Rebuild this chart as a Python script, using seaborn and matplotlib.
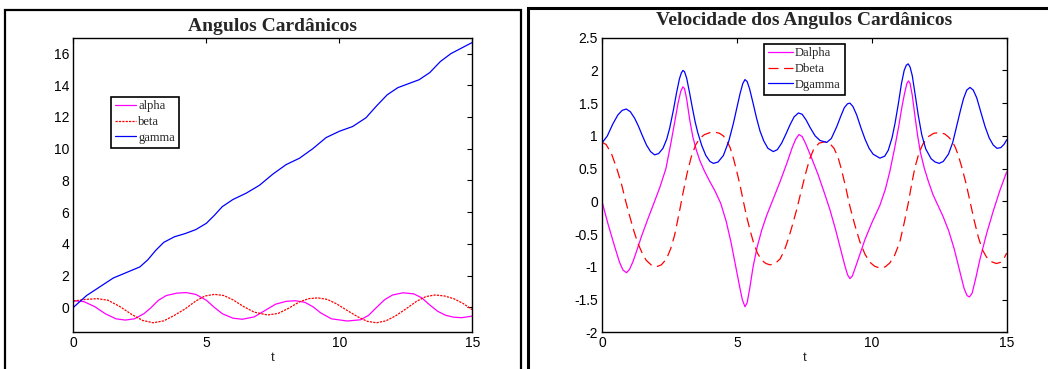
import matplotlib
matplotlib.use("Agg")
import matplotlib.pyplot as plt
import seaborn as sns
from matplotlib.patches import Rectangle

# ---- left panel: Angulos Cardanicos ----
t_alpha = [0, 0.4, 0.8, 1.2, 1.6, 1.95, 2.3, 2.65, 2.9, 3.2, 3.5, 3.9, 4.25, 4.6, 5.0, 5.3,
           5.6, 6.0, 6.35, 6.8, 7.2, 7.6, 8.0, 8.35, 8.7, 9.0, 9.3, 9.7, 10.3, 10.8, 11.1,
           11.4, 11.7, 12.0, 12.4, 12.8, 13.1, 13.4, 13.7, 14.0, 14.3, 14.6, 15.0]
alpha = [0.42, 0.36, 0.05, -0.4, -0.72, -0.8, -0.72, -0.4, -0.05, 0.45, 0.75, 0.9, 0.93, 0.82,
         0.45, 0.0, -0.4, -0.68, -0.75, -0.6, -0.2, 0.2, 0.38, 0.42, 0.32, 0.05, -0.35, -0.72,
         -0.86, -0.78, -0.5, 0.0, 0.48, 0.78, 0.92, 0.85, 0.6, 0.15, -0.25, -0.5, -0.62, -0.65, -0.55]

t_beta = [0, 0.45, 0.9, 1.3, 1.75, 2.2, 2.6, 3.0, 3.4, 3.8, 4.2, 4.6, 4.95, 5.3, 5.65, 6.0, 6.4,
          6.8, 7.3, 7.7, 8.1, 8.5, 8.85, 9.2, 9.55, 9.9, 10.3, 10.7, 11.05, 11.4, 11.75, 12.1,
          12.5, 12.9, 13.25, 13.6, 13.95, 14.3, 14.65, 15.0]
beta = [0.40, 0.5, 0.55, 0.45, 0.05, -0.45, -0.82, -0.97, -0.85, -0.5, -0.1, 0.4, 0.72, 0.82,
        0.75, 0.48, 0.05, -0.3, -0.48, -0.38, -0.05, 0.35, 0.55, 0.6, 0.5, 0.22, -0.2, -0.6,
        -0.88, -0.97, -0.85, -0.55, -0.1, 0.38, 0.68, 0.78, 0.72, 0.55, 0.25, -0.15]

t_gamma = [0, 0.5, 1.0, 1.5, 2.0, 2.5, 2.8, 3.1, 3.4, 3.8, 4.2, 4.6, 5.0, 5.3, 5.6, 6.0, 6.5,
           7.0, 7.5, 8.0, 8.5, 9.0, 9.5, 10.0, 10.5, 11.0, 11.4, 11.8, 12.2, 12.6, 13.0, 13.4,
           13.8, 14.2, 14.6, 15.0]
gamma = [0, 0.75, 1.3, 1.85, 2.2, 2.55, 3.0, 3.6, 4.1, 4.45, 4.65, 4.9, 5.3, 5.8, 6.35, 6.8,
         7.2, 7.7, 8.4, 9.0, 9.4, 10.0, 10.7, 11.1, 11.4, 11.95, 12.7, 13.4, 13.85, 14.1, 14.35,
         14.8, 15.5, 16.0, 16.35, 16.7]

# ---- right panel: Velocidade dos Angulos Cardanicos ----
t_dalpha = [0, 0.22, 0.47, 0.65, 0.78, 0.91, 1.02, 1.15, 1.3, 1.46, 1.7, 1.95, 2.15, 2.37, 2.55,
            2.7, 2.82, 2.92, 3.0, 3.06, 3.14, 3.25, 3.37, 3.5, 3.63, 3.8, 4.0, 4.2, 4.4, 4.6,
            4.78, 4.95, 5.1, 5.2, 5.3, 5.38, 5.48, 5.6, 5.75, 5.92, 6.1, 6.35, 6.6, 6.85, 7.05,
            7.18, 7.3, 7.42, 7.55, 7.75, 8.0, 8.25, 8.45, 8.65, 8.85, 9.0, 9.1, 9.19, 9.28, 9.4,
            9.55, 9.75, 10.0, 10.3, 10.5, 10.67, 10.85, 11.0, 11.12, 11.22, 11.3, 11.36, 11.42,
            11.5, 11.6, 11.7, 11.8, 11.95, 12.1, 12.27, 12.45, 12.64, 12.85, 13.05, 13.25,
            13.42, 13.53, 13.62, 13.72, 13.85, 14.0, 14.25, 14.5, 14.75, 15.0]
dalpha = [0.0, -0.34, -0.69, -0.93, -1.05, -1.09, -1.04, -0.92, -0.74, -0.54, -0.27, 0.0, 0.22,
          0.5, 0.88, 1.22, 1.5, 1.68, 1.75, 1.72, 1.56, 1.25, 0.98, 0.78, 0.62, 0.46, 0.3, 0.15,
          -0.03, -0.3, -0.62, -0.98, -1.3, -1.5, -1.61, -1.55, -1.32, -1.0, -0.7, -0.44, -0.22,
          0.04, 0.3, 0.58, 0.82, 0.95, 1.02, 0.99, 0.88, 0.68, 0.42, 0.12, -0.13, -0.42, -0.74,
          -0.98, -1.12, -1.18, -1.14, -1.0, -0.82, -0.58, -0.33, -0.06, 0.18, 0.46, 0.82, 1.15,
          1.45, 1.66, 1.8, 1.84, 1.8, 1.62, 1.3, 1.0, 0.75, 0.5, 0.3, 0.1, -0.06, -0.23, -0.45,
          -0.72, -1.05, -1.33, -1.44, -1.46, -1.4, -1.18, -0.9, -0.5, -0.15, 0.17, 0.45]

t_dbeta = [0, 0.15, 0.35, 0.55, 0.72, 0.88, 1.03, 1.18, 1.33, 1.5, 1.64, 1.82, 2.01, 2.2, 2.39,
           2.55, 2.69, 2.85, 3.0, 3.15, 3.31, 3.47, 3.62, 3.8, 4.0, 4.16, 4.35, 4.5, 4.62, 4.75,
           4.87, 5.0, 5.12, 5.24, 5.36, 5.5, 5.61, 5.76, 5.92, 6.08, 6.23, 6.42, 6.6, 6.75,
           6.91, 7.06, 7.22, 7.38, 7.55, 7.7, 7.85, 8.05, 8.26, 8.45, 8.6, 8.75, 8.88, 9.03,
           9.19, 9.37, 9.56, 9.75, 9.93, 10.1, 10.3, 10.5, 10.67, 10.85, 11.04, 11.2, 11.35,
           11.48, 11.6, 11.75, 11.9, 12.1, 12.3, 12.5, 12.7, 12.85, 12.98, 13.1, 13.2, 13.35,
           13.5, 13.65, 13.8, 13.95, 14.1, 14.25, 14.42, 14.62, 14.78, 14.9, 15.0]
dbeta = [0.90, 0.87, 0.73, 0.5, 0.27, 0.0, -0.23, -0.45, -0.64, -0.8, -0.90, -0.97, -1.0, -0.97,
         -0.88, -0.72, -0.52, -0.2, 0.12, 0.42, 0.68, 0.86, 0.96, 1.02, 1.05, 1.06, 1.04, 1.0,
         0.93, 0.82, 0.66, 0.45, 0.24, 0.0, -0.23, -0.46, -0.62, -0.79, -0.90, -0.95, -0.97,
         -0.95, -0.88, -0.76, -0.57, -0.36, -0.12, 0.15, 0.43, 0.65, 0.8, 0.89, 0.91, 0.88,
         0.81, 0.67, 0.48, 0.22, -0.08, -0.36, -0.62, -0.81, -0.93, -0.99, -1.02, -1.0, -0.94,
         -0.82, -0.62, -0.33, -0.03, 0.27, 0.52, 0.74, 0.88, 0.99, 1.04, 1.05, 1.03, 0.98,
         0.92, 0.82, 0.71, 0.5, 0.26, -0.02, -0.3, -0.55, -0.74, -0.85, -0.92, -0.95, -0.93,
         -0.87, -0.79]

t_dgamma = [0, 0.2, 0.4, 0.59, 0.75, 0.9, 1.05, 1.21, 1.35, 1.5, 1.65, 1.8, 1.95, 2.1, 2.26, 2.4,
            2.51, 2.65, 2.76, 2.87, 2.94, 3.0, 3.06, 3.14, 3.25, 3.35, 3.45, 3.55, 3.7, 3.85,
            4.0, 4.13, 4.3, 4.5, 4.7, 4.87, 5.0, 5.12, 5.22, 5.3, 5.38, 5.47, 5.6, 5.73, 5.86,
            6.0, 6.15, 6.35, 6.5, 6.66, 6.82, 6.97, 7.12, 7.28, 7.42, 7.57, 7.71, 7.9, 8.08,
            8.33, 8.5, 8.7, 8.85, 8.98, 9.1, 9.19, 9.3, 9.44, 9.6, 9.75, 9.9, 10.05, 10.3, 10.48,
            10.61, 10.75, 10.86, 10.98, 11.1, 11.2, 11.28, 11.35, 11.42, 11.5, 11.6, 11.72,
            11.85, 12.0, 12.2, 12.35, 12.5, 12.65, 12.84, 13.0, 13.14, 13.28, 13.4, 13.52,
            13.64, 13.76, 13.89, 14.05, 14.2, 14.35, 14.5, 14.64, 14.78, 14.9, 15.0]
dgamma = [0.89, 1.0, 1.18, 1.32, 1.39, 1.41, 1.37, 1.27, 1.15, 1.0, 0.86, 0.76, 0.71, 0.73, 0.81,
          0.95, 1.12, 1.4, 1.65, 1.87, 1.96, 2.0, 1.98, 1.88, 1.65, 1.43, 1.22, 1.05, 0.85, 0.7,
          0.61, 0.58, 0.6, 0.7, 0.92, 1.19, 1.43, 1.65, 1.8, 1.86, 1.83, 1.72, 1.5, 1.27, 1.07,
          0.92, 0.81, 0.76, 0.79, 0.89, 1.03, 1.17, 1.29, 1.35, 1.33, 1.24, 1.13, 1.0, 0.93,
          0.90, 0.96, 1.14, 1.3, 1.43, 1.49, 1.50, 1.45, 1.32, 1.12, 0.95, 0.81, 0.72, 0.66,
          0.69, 0.78, 0.97, 1.19, 1.48, 1.8, 2.0, 2.08, 2.10, 2.05, 1.92, 1.65, 1.32, 1.02, 0.8,
          0.65, 0.6, 0.58, 0.61, 0.72, 0.9, 1.14, 1.38, 1.57, 1.7, 1.74, 1.7, 1.58, 1.35, 1.14,
          0.97, 0.86, 0.81, 0.82, 0.87, 0.94]

right_yticks = [-2, -1.5, -1, -0.5, 0, 0.5, 1, 1.5, 2, 2.5]
right_ylabels = ['-2', '-1.5', '-1', '-0.5', '0', '0.5', '1', '1.5', '2', '2.5']

sns.set_theme(style="white")
plt.rcParams['font.family'] = ['Liberation Sans', 'DejaVu Sans']
serif = ['Liberation Serif', 'DejaVu Serif']

fig = plt.figure(figsize=(10.48, 3.69), dpi=100)
ax1 = fig.add_axes([0.0700, 0.0995, 0.3807, 0.7984])
ax2 = fig.add_axes([0.5744, 0.0995, 0.3862, 0.7984])


def draw(ax, t, v, color, label, dash=None):
    sns.lineplot(x=t, y=v, ax=ax, color=color, label=label, linewidth=0.9,
                 errorbar=None, sort=False)
    if dash is not None:
        ax.lines[-1].set_dashes(dash)


draw(ax1, t_alpha, alpha, '#ff00ff', 'alpha')
draw(ax1, t_beta, beta, '#ff0000', 'beta', dash=(1.8, 0.9))
draw(ax1, t_gamma, gamma, '#0000ff', 'gamma')

draw(ax2, t_dalpha, dalpha, '#ff00ff', 'Dalpha')
draw(ax2, t_dbeta, dbeta, '#ff0000', 'Dbeta', dash=(8, 4.5))
draw(ax2, t_dgamma, dgamma, '#0000ff', 'Dgamma')

ax1.set_xlim(0, 15)
ax1.set_ylim(-1.57, 17)
ax1.set_xticks([0, 5, 10, 15])
ax1.set_yticks([0, 2, 4, 6, 8, 10, 12, 14, 16])

ax2.set_xlim(0, 15)
ax2.set_ylim(-2, 2.5)
ax2.set_xticks([0, 5, 10, 15])
ax2.set_yticks(right_yticks)
ax2.set_yticklabels(right_ylabels)

for ax in (ax1, ax2):
    ax.tick_params(direction='in', top=True, right=True, length=3.5, width=0.8,
                   labelsize=10, pad=3, colors='black')
    for s in ax.spines.values():
        s.set_color('black')
        s.set_linewidth(1.0)
    ax.set_xlabel('t', fontsize=9.5, labelpad=1)
    ax.set_ylabel('')

ax1.set_title('Angulos Cardânicos', fontfamily=serif, fontweight='bold', fontsize=14, pad=5)
ax2.set_title('Velocidade dos Angulos Cardânicos', fontfamily=serif, fontweight='bold',
              fontsize=14, pad=9)

leg1 = ax1.legend(loc='upper left', bbox_to_anchor=(0.094, 0.80), prop={'family': serif, 'size': 9},
                  frameon=True, fancybox=False, edgecolor='black', framealpha=1,
                  handlelength=1.7, handletextpad=0.2, labelspacing=0.3, borderpad=0.3,
                  borderaxespad=0)
leg1.get_frame().set_linewidth(1.2)
leg2 = ax2.legend(loc='upper left', bbox_to_anchor=(0.40, 0.98), prop={'family': serif, 'size': 9},
                  frameon=True, fancybox=False, edgecolor='black', framealpha=1,
                  handlelength=2.0, handletextpad=0.2, labelspacing=0.3, borderpad=0.3,
                  borderaxespad=0)
leg2.get_frame().set_linewidth(1.2)

# outer panel frames
fig.add_artist(Rectangle((5 / 1048, -0.1), (521 - 5) / 1048, 1.073, fill=False,
                         edgecolor='black', linewidth=1.6, transform=fig.transFigure))
fig.add_artist(Rectangle((528 / 1048, -0.1), 0.6, 1.078, fill=False,
                         edgecolor='black', linewidth=2.2, transform=fig.transFigure))

fig.savefig('out.png', dpi=100)
